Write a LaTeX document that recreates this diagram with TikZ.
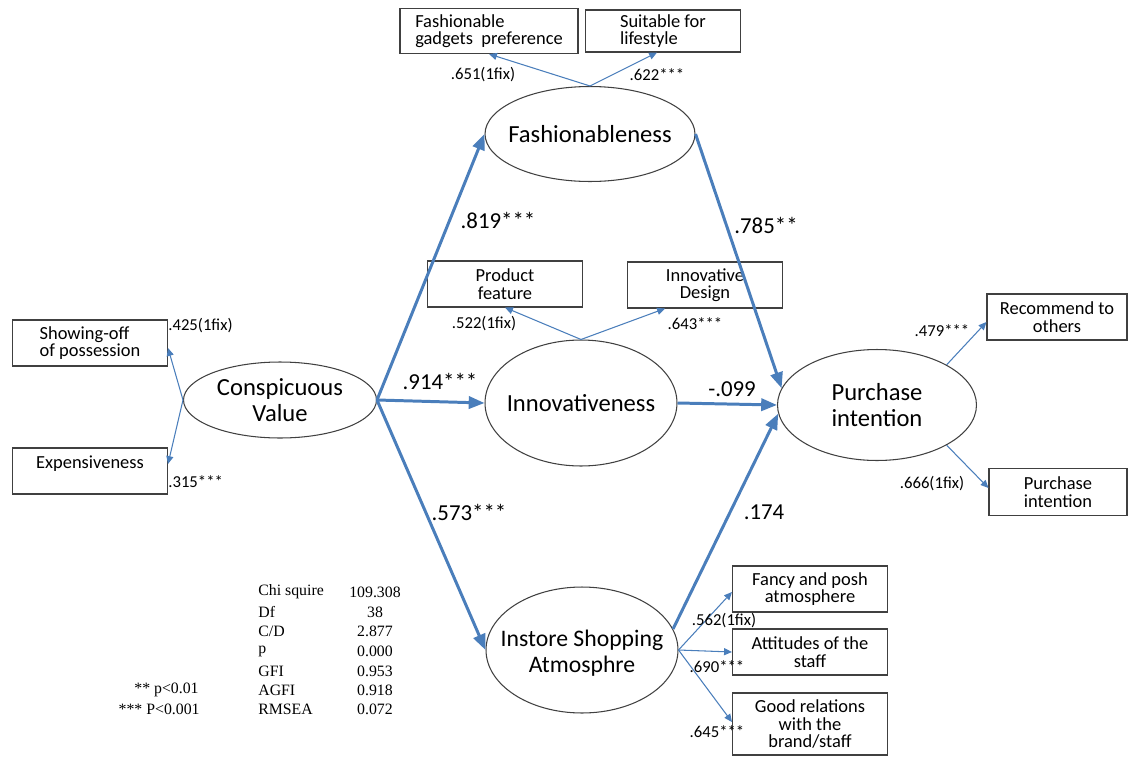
\documentclass[tikz,border=0pt]{standalone}
\usepackage{fontspec}
\setmainfont{Carlito}
\newfontfamily\tabfont{Liberation Serif}
\usepackage{tikz}
\usetikzlibrary{shapes.geometric, arrows.meta}
\definecolor{pathblue}{RGB}{74,126,187}

\begin{document}
\begin{tikzpicture}[
    x=0.02cm, y=-0.02cm,
    latent/.style={ellipse, draw=black!75, line width=0.6pt, inner sep=0pt},
    every label/.style={align=center, inner sep=0pt, font=\fontsize{14}{15}\selectfont},
    indicator/.style={rectangle, draw=black!75, line width=0.6pt, inner sep=0pt, align=center, minimum width=3.1cm, minimum height=0.92cm, font=\fontsize{10.5}{10}\selectfont},
    path/.style={-{Triangle[length=9pt, width=7pt]}, line width=1.7pt, pathblue},
    load/.style={-{Triangle[length=4.5pt, width=4pt]}, line width=0.6pt, pathblue},
    coef/.style={font=\fontsize{13}{13}\selectfont, inner sep=0pt},
    est/.style={font=\fontsize{9.5}{9.5}\selectfont, inner sep=0pt},
    stat/.style={font=\tabfont\fontsize{9}{9}\selectfont, inner sep=0pt}
]
    \useasboundingbox (0,0) rectangle (1137,758);

    % latent variables
    \node[latent, minimum width=4.2cm, minimum height=1.9cm, label=center:Fashionableness] (fash) at (590,134) {};
    \node[latent, minimum width=3.84cm, minimum height=2.52cm, label=center:Innovativeness] (innov) at (581,403) {};
    \node[latent, minimum width=3.86cm, minimum height=1.52cm, label=center:{Conspicuous\\Value}] (consp) at (280,400) {};
    \node[latent, minimum width=3.98cm, minimum height=2.22cm, label=center:{Purchase\\intention}] (purch) at (877,405) {};
    \node[latent, minimum width=3.84cm, minimum height=2.52cm, label={[yshift=-0.06cm, font=\fontsize{13.5}{14.5}\selectfont]center:{Instore Shopping\\Atmosphre}}] (instore) at (582,650) {};

    % indicators
    \node[indicator, minimum width=3.56cm, minimum height=0.9cm, align=left] (gadget) at (489,31) {Fashionable\\gadgets\ \ preference};
    \node[indicator, minimum height=0.84cm, align=left] (lifestyle) at (663,31) {Suitable for\\lifestyle};
    \node[indicator] (feature) at (505,284) {Product\\feature};
    \node[indicator] (design) at (705,285) {Innovative\\Design};
    \node[indicator, align=left] (showoff) at (90,343) {Showing-off\\of possession};
    \node[indicator, align=left] (expens) at (90,471) {Expensiveness\\\mbox{}};
    \node[indicator, minimum width=2.8cm] (recommend) at (1057,317) {Recommend to\\others};
    \node[indicator, minimum width=2.76cm, minimum height=0.94cm] (pintent) at (1058,492) {Purchase\\intention};
    \node[indicator] (posh) at (810,589) {Fancy and posh\\atmosphere};
    \node[indicator] (staff) at (810,652) {Attitudes of the\\staff};
    \node[indicator, minimum height=1.24cm] (relation) at (810,724) {Good relations\\with the\\brand/staff};

    % structural paths
    \draw[path] (consp.east) -- (fash.west);
    \draw[path] (consp.east) -- (innov.west);
    \draw[path] (consp.east) -- (instore.west);
    \draw[path] (fash.east) -- (purch.170);
    \draw[path] (innov.east) -- (purch.west);
    \draw[path] (instore.13) -- (purch.185);

    \node[coef] (c819) at (498,220) {.819***};
    \node[coef] (c914) at (440,381) {.914***};
    \node[coef] (c573) at (469,512) {.573***};
    \node[coef] (c785) at (766,225) {.785**};
    \node[coef] (c099) at (732,389) {-.099};
    \node[coef] (c174) at (764,512) {.174};

    % loadings
    \draw[load] (fash.north) -- (gadget.south);
    \draw[load] (fash.north) -- ([xshift=-0.12cm]lifestyle.south);
    \draw[load] (innov.north) -- (feature.south);
    \draw[load] (innov.north) -- ([xshift=-0.8cm]design.south);
    \draw[load] (consp.west) -- ([yshift=-0.1cm]showoff.east);
    \draw[load] (consp.west) -- ([yshift=0.14cm]expens.east);
    \draw[load] (purch.30) -- ([yshift=-0.1cm]recommend.west);
    \draw[load] (purch.-30) -- ([yshift=0.08cm]pintent.west);
    \draw[load] (instore.east) -- ([yshift=-0.06cm]posh.west);
    \draw[load] (instore.east) -- (staff.west);
    \draw[load] (instore.east) -- ([yshift=0.04cm]relation.west);

    \node[est] (l651) at (483,75) {.651(1fix)};
    \node[est] (l622) at (657,75) {.622***};
    \node[est] (l522) at (484,324) {.522(1fix)};
    \node[est] (l643) at (695,324) {.643***};
    \node[est, anchor=west] (l425) at (168,326) {.425(1fix)};
    \node[est, anchor=west] (l315) at (168,482) {.315***};
    \node[est] (l479) at (942,331) {.479***};
    \node[est] (l666) at (932,484) {.666(1fix)};
    \node[est] (l562) at (724,621) {.562(1fix)};
    \node[est] (l690) at (717,667) {.690***};
    \node[est] (l645) at (717,732) {.645***};

    % fit indices
    \node[stat, anchor=west] (chi) at (258,592) {Chi squire};
    \node[stat, anchor=west] (df) at (258,612) {Df};
    \node[stat, anchor=west] (cd) at (258,631) {C/D};
    \node[stat, anchor=west] (pval) at (258,651) {p};
    \node[stat, anchor=west] (gfi) at (258,671) {GFI};
    \node[stat, anchor=west] (agfi) at (258,690) {AGFI};
    \node[stat, anchor=west] (rmsea) at (258,709) {RMSEA};
    \node[stat] (vchi) at (375,592) {109.308};
    \node[stat] (vdf) at (375,612) {38};
    \node[stat] (vcd) at (375,631) {2.877};
    \node[stat] (vp) at (375,651) {0.000};
    \node[stat] (vgfi) at (375,671) {0.953};
    \node[stat] (vagfi) at (375,690) {0.918};
    \node[stat] (vrmsea) at (375,709) {0.072};
    \node[stat, anchor=east] (sig2) at (199,690) {** p<0.01};
    \node[stat, anchor=east] (sig3) at (200,709) {*** P<0.001};
\end{tikzpicture}
\end{document}
